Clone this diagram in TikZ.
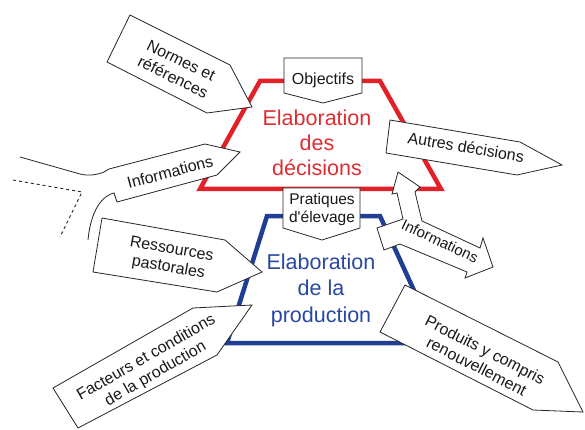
\documentclass[tikz,border=0pt]{standalone}
\usepackage{fontspec}
\setmainfont{Liberation Sans}
\definecolor{redline}{RGB}{226,32,40}
\definecolor{blueline}{RGB}{32,62,148}
\definecolor{redtext}{RGB}{222,45,50}
\definecolor{bluetext}{RGB}{40,72,160}
\begin{document}
\begin{tikzpicture}[x=1pt,y=-1pt,
  arrbox/.style={draw=black!85, line width=0.8pt, fill=white, line join=miter},
  lbl/.style={font=\fontsize{16}{18.5}\selectfont, align=center, inner sep=0pt, text=black!90},
  ttl/.style={font=\fontsize{21.5}{25}\selectfont, align=center, inner sep=0pt},
  frame/.style={line width=4.5pt, line join=miter}]
\useasboundingbox (0,0) rectangle (585,430);
% trapezoids
\draw[frame, redline] (260,81) -- (380,81) -- (441,189) -- (200,189) -- cycle;
\draw[frame, blueline] (267,216) -- (380,216) -- (438,343) -- (227,343) -- cycle;
\node[ttl, text=redtext] (dec) at (317,143) {Elaboration\\des\\décisions};
\node[ttl, text=bluetext, font=\fontsize{21.5}{26.5}\selectfont] (prod) at (321,290) {Elaboration\\de la\\production};
% top / middle boxes
\draw[arrbox] (284,58) -- (362,58) -- (362,93) -- (323,103) -- (284,93) -- cycle;
\node[lbl] (obj) at (323,80) {Objectifs};
\draw[arrbox] (283,188) -- (360,188) -- (360,228) -- (322,240) -- (283,228) -- cycle;
\node[lbl, font=\fontsize{15.5}{18}\selectfont] (prat) at (322,209) {Pratiques\\d\textquotesingle élevage};
% Normes et references
\draw[arrbox] (130,15) -- (230,65) -- (252,107) -- (207,113) -- (107,62) -- cycle;
\node[lbl, rotate=-26] (norm) at (177,69) {Normes et\\références};
% left Informations
\draw[arrbox] (20,157) -- (80,174) .. controls (88,176) and (97,175) .. (104,172) -- (109,169) -- (205,144) -- (240,152) -- (217,175) -- (117,202) -- (114,193) .. controls (98,197) and (90,218) .. (88,240);
\node[lbl, rotate=15] (infl) at (170,172) {Informations};
\draw[dashed, line width=0.9pt, black!85] (13,180) -- (82,192) -- (60,237);
% Autres decisions
\draw[arrbox] (390,120) -- (520,142) -- (562,165) -- (517,175) -- (386,153) -- cycle;
\node[lbl, rotate=-9.5] (autres) at (466,147) {Autres décisions};
% bent Informations
\draw[arrbox] (398,172) -- (420,187) -- (415,192) -- (422,221) -- (480,248) -- (483,238) -- (493,267) -- (465,278) -- (467,272) -- (400,244) -- (384,250) -- (377,228) -- (403,219) -- (397,193) -- (392,194) -- cycle;
\node[lbl, rotate=-25, font=\fontsize{15}{18}\selectfont] (infr) at (440,241) {Informations};
% Ressources pastorales
\draw[arrbox] (102,218) -- (225,240) -- (262,272) -- (217,292) -- (93,272) -- cycle;
\node[lbl, rotate=-10] (ress) at (170,259) {Ressources\\pastorales};
% Facteurs
\draw[arrbox] (53,388) -- (193,308) -- (252,305) -- (217,355) -- (78,428) -- cycle;
\node[lbl, rotate=30] (fact) at (151,366) {Facteurs et conditions\\de la production};
% Produits
\draw[arrbox] (405,285) -- (558,362) -- (583,412) -- (533,410) -- (380,332) -- cycle;
\node[lbl, rotate=-27] (produits) at (481,358) {Produits y compris\\renouvellement};
\end{tikzpicture}
\end{document}
